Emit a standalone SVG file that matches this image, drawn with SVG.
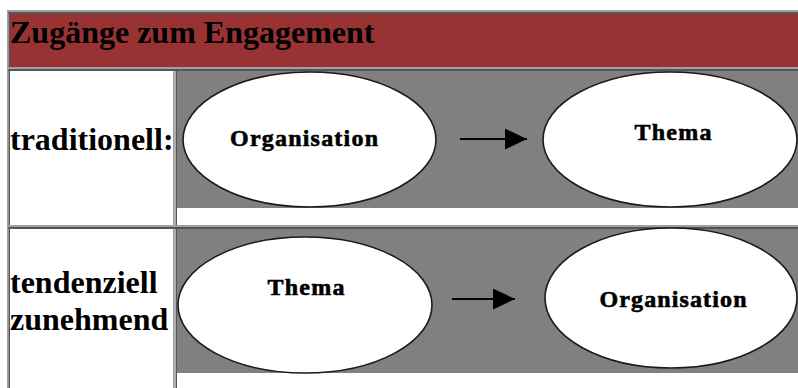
<svg xmlns="http://www.w3.org/2000/svg" width="798" height="388" viewBox="0 0 798 388">
  <defs>
    <style>
      .lbl { font-family: "Liberation Serif", "Times New Roman", serif; font-weight: bold; font-size: 32px; fill: #000; }
      .node-text { font-family: "Liberation Serif", "Times New Roman", serif; font-weight: bold; font-size: 24px; fill: #000; stroke: #000; stroke-width: 0.6; text-anchor: middle; }
      .oval { fill: #fff; stroke: #1a1a1a; stroke-width: 1.6; }
      .panel { fill: #808080; }
      .light { fill: #a0a0a0; }
      .dark { fill: #555; }
      .edge { stroke: #000; stroke-width: 2; fill: none; marker-end: url(#head); }
    </style>
    <marker id="head" viewBox="0 0 22 21" refX="22" refY="10.5" markerWidth="22" markerHeight="21" markerUnits="userSpaceOnUse" orient="auto">
      <path d="M0,0 L22,10.5 L0,21 Z" fill="#000"/>
    </marker>
  </defs>

  <rect width="798" height="388" fill="#fff"/>

  <!-- table frame -->
  <g id="table">
    <!-- outer border (outset) -->
    <rect class="light" x="7" y="10" width="791" height="2"/>
    <rect class="light" x="7" y="10" width="1.5" height="378"/>
    <!-- header cell -->
    <rect class="dark" x="8.5" y="12" width="790" height="2"/>
    <rect class="dark" x="8.5" y="12" width="1.5" height="56"/>
    <rect x="10" y="14" width="788" height="53" fill="#993333"/>
    <rect class="light" x="8.5" y="67" width="790" height="2"/>
    <!-- row 1 -->
    <rect class="dark" x="8.5" y="69" width="790" height="2"/>
    <rect class="dark" x="8.5" y="69" width="1.5" height="158"/>
    <rect class="light" x="173" y="71" width="1.8" height="156"/>
    <rect class="dark" x="175.5" y="69" width="1.5" height="158"/>
    <rect class="panel" x="177" y="71" width="621" height="137"/>
    <rect class="light" x="8.5" y="225" width="790" height="2"/>
    <!-- row 2 -->
    <rect class="dark" x="8.5" y="227" width="790" height="2"/>
    <rect class="dark" x="8.5" y="227" width="1.5" height="161"/>
    <rect class="light" x="173" y="229" width="1.8" height="159"/>
    <rect class="dark" x="175.5" y="227" width="1.5" height="161"/>
    <rect class="panel" x="177" y="229" width="621" height="144"/>
  </g>

  <!-- labels -->
  <g id="labels">
    <text class="lbl" x="10" y="43">Zugänge zum Engagement</text>
    <text class="lbl" x="10" y="150">traditionell:</text>
    <text class="lbl" x="10" y="293">tendenziell</text>
    <text class="lbl" x="10" y="330">zunehmend</text>
  </g>

  <!-- row 1 nodes -->
  <g id="org-1">
    <ellipse class="oval" cx="309.5" cy="139.5" rx="126.5" ry="67.5"/>
    <text class="node-text" x="304" y="146" textLength="148" lengthAdjust="spacing">Organisation</text>
  </g>
  <g id="thema-1">
    <ellipse class="oval" cx="670" cy="139.5" rx="127" ry="67.5"/>
    <text class="node-text" x="673" y="140" textLength="77" lengthAdjust="spacing">Thema</text>
  </g>

  <!-- row 2 nodes -->
  <g id="thema-2">
    <ellipse class="oval" cx="305" cy="305" rx="127" ry="68"/>
    <text class="node-text" x="306" y="295" textLength="77" lengthAdjust="spacing">Thema</text>
  </g>
  <g id="org-2">
    <ellipse class="oval" cx="671" cy="298" rx="126" ry="70"/>
    <text class="node-text" x="673" y="307" textLength="147" lengthAdjust="spacing">Organisation</text>
  </g>

  <!-- connectors -->
  <g id="connectors">
    <line class="edge" x1="460" y1="139" x2="527" y2="139"/>
    <line class="edge" x1="452" y1="299" x2="515" y2="299"/>
  </g>
</svg>
